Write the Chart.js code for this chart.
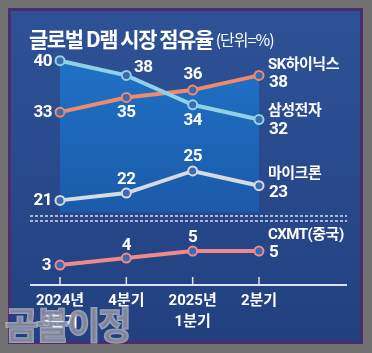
<!DOCTYPE html>
<html>
<head>
<meta charset="utf-8">
<script src="https://cdn.jsdelivr.net/npm/chart.js@4"></script>
<style>
  html, body { margin: 0; padding: 0; background: #717171; }
  #frame {
    position: absolute; left: 8px; top: 8px; width: 349px; height: 330px;
    border: 3px solid #4b2c6f;
    background: linear-gradient(180deg, #2e5297 0%, #28488b 55%, #22407f 100%);
  }
  #myChart { position: absolute; left: 0; top: 0; }
</style>
</head>
<body>
<div id="frame"></div>
<canvas id="myChart" width="372" height="353"></canvas>
<script>
// quarters on the x axis
const quarters = [['2024년', '3분기'], '4분기', ['2025년', '1분기'], '2분기'];

// market share, %
const samsung = [40, 38, 34, 32];
const skhynix = [33, 35, 36, 38];
const micron = [21, 22, 25, 23];
const cxmt = [3, 4, 5, 5];

const seriesNames = ['삼성전자', 'SK하이닉스', '마이크론', 'CXMT(중국)'];

// where each value label sits relative to its point
const labelOffsets = [
  [[-8, 1, 'right'], [17, -8, 'center'], [0, 16, 'center'], null],
  [[-8, 1, 'right'], [0, 15, 'center'], [0, -15, 'center'], null],
  [[-8, 0, 'right'], [0, -13, 'center'], [0, -14, 'center'], null],
  [[-9, 1, 'right'], [0, -12, 'center'], [0, -13, 'center'], null],
];
// name / last value next to the end of each line: [nameDy, valueDy]
const endOffsets = [[-8, 10], [-10, 7], [-11, 7], [-16, 2]];

const numFont = 'bold 17px Roboto, "Noto Sans CJK KR"';
const nameFont = 'bold 15px Roboto, "Noto Sans CJK KR"';

const areaFill = (ctx) => {
  const chart = ctx.chart;
  const area = chart.chartArea;
  if (!area) return '#1d66b8';
  const y = chart.scales.y;
  const top = y.getPixelForValue(40);
  const bot = y.getPixelForValue(19.4);
  if (!isFinite(top) || !isFinite(bot)) return '#1d66b8';
  const g = chart.ctx.createLinearGradient(0, top, 0, bot);
  g.addColorStop(0, '#1f71c6');
  g.addColorStop(1, '#1b5aa9');
  return g;
};

const labelPlugin = {
  id: 'valueLabels',
  afterDatasetsDraw(chart) {
    const c = chart.ctx;
    c.save();
    c.fillStyle = '#ffffff';
    c.textBaseline = 'middle';
    c.letterSpacing = '-0.5px';
    chart.data.datasets.forEach((ds, i) => {
      const pts = chart.getDatasetMeta(i).data;
      pts.forEach((p, j) => {
        const off = labelOffsets[i][j];
        if (off) {
          c.font = numFont;
          c.textAlign = off[2];
          c.fillText(ds.data[j], p.x + off[0], p.y + off[1]);
        } else {
          c.textAlign = 'left';
          c.font = nameFont;
          c.fillText(seriesNames[i], p.x + 9, p.y + endOffsets[i][0]);
          c.font = numFont;
          c.fillText(ds.data[j], p.x + 10, p.y + endOffsets[i][1]);
        }
      });
    });
    c.restore();
  }
};

const decorPlugin = {
  id: 'decor',
  beforeDatasetsDraw(chart) {
    const c = chart.ctx;
    const area = chart.chartArea;
    const x = chart.scales.x;
    c.save();
    // double dashed divider
    c.strokeStyle = 'rgba(235,238,250,0.9)';
    c.lineWidth = 1.3;
    c.setLineDash([3, 2]);
    [216, 221].forEach(yy => {
      c.beginPath();
      c.moveTo(30, yy);
      c.lineTo(347, yy);
      c.stroke();
    });
    c.setLineDash([]);
    // axis line and inner ticks
    c.strokeStyle = '#dfe2f2';
    c.lineWidth = 2;
    c.beginPath();
    c.moveTo(30, area.bottom);
    c.lineTo(347, area.bottom);
    c.stroke();
    c.lineWidth = 1.5;
    quarters.forEach((q, i) => {
      const px = x.getPixelForValue(i);
      c.beginPath();
      c.moveTo(px, area.bottom - 8);
      c.lineTo(px, area.bottom);
      c.stroke();
    });
    c.restore();
  },
  afterDraw(chart) {
    const c = chart.ctx;
    c.save();
    // title
    c.fillStyle = '#ffffff';
    c.textBaseline = 'middle';
    c.textAlign = 'left';
    c.font = 'bold 21px "Noto Sans CJK KR"';
    c.letterSpacing = '-1.5px';
    c.fillText('글로벌 D램 시장 점유율', 29, 39);
    const w = c.measureText('글로벌 D램 시장 점유율').width;
    c.font = '16px "Noto Sans CJK KR"';
    c.letterSpacing = '-1px';
    c.fillText('(단위=%)', 29 + w + 3, 40);
    // watermark
    c.font = 'bold 36px "Noto Sans CJK KR"';
    c.letterSpacing = '-2px';
    c.lineWidth = 2;
    c.strokeStyle = 'rgba(225,225,235,0.6)';
    c.strokeText('곰블이정', 5, 325);
    c.fillStyle = 'rgba(145,145,158,0.85)';
    c.fillText('곰블이정', 5, 325);
    c.restore();
  }
};

const lineStyle = (color) => ({
  borderColor: color,
  borderWidth: 4,
  pointRadius: 4.5,
  pointBorderWidth: 2,
  pointBorderColor: color,
  pointBackgroundColor: '#3b6aae',
  tension: 0,
  clip: false
});

const data = {
  labels: quarters,
  datasets: [
    { label: seriesNames[0], data: samsung, yAxisID: 'y', fill: { value: 19.4 }, backgroundColor: areaFill, ...lineStyle('#8fd2e4') },
    { label: seriesNames[1], data: skhynix, yAxisID: 'y', fill: { value: 19.4 }, backgroundColor: areaFill, ...lineStyle('#f08a6c') },
    { label: seriesNames[2], data: micron, yAxisID: 'y', fill: false, ...lineStyle('#d6dae2') },
    { label: seriesNames[3], data: cxmt, yAxisID: 'y2', fill: false, ...lineStyle('#ee8a8e') }
  ]
};

const config = {
  type: 'line',
  data: data,
  options: {
    responsive: false,
    animation: false,
    layout: { padding: { left: 60, right: 113, top: 46, bottom: 14 } },
    plugins: {
      legend: { display: false },
      tooltip: { enabled: false },
      filler: { drawTime: 'beforeDatasetsDraw' }
    },
    scales: {
      x: {
        grid: { display: false, drawTicks: false },
        border: { display: false },
        ticks: {
          color: '#ffffff',
          font: { family: 'Roboto, "Noto Sans CJK KR"', size: 15, weight: 'bold', lineHeight: 1.4 },
          padding: 6,
          maxRotation: 0,
          autoSkip: false
        }
      },
      y: { display: false, min: 9.49, max: 42 },
      y2: { display: false, min: 0.143, max: 34.39 }
    }
  },
  plugins: [decorPlugin, labelPlugin]
};

new Chart(document.getElementById('myChart'), config);
</script>
</body>
</html>
